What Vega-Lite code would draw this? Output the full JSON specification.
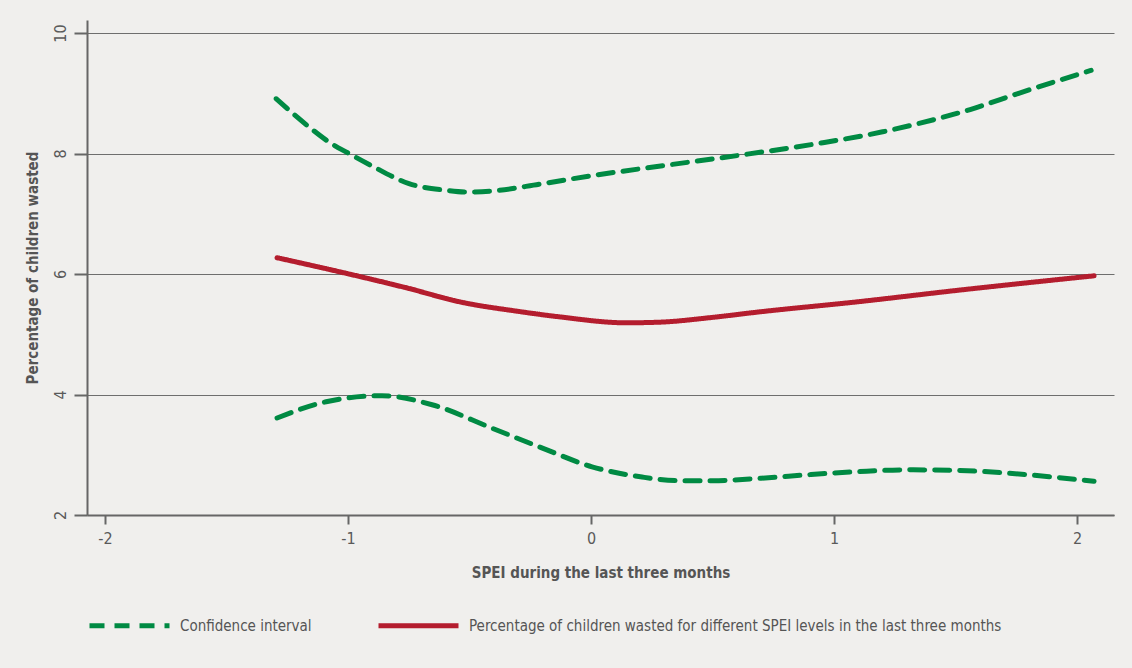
{
  "$schema": "https://vega.github.io/schema/vega-lite/v6.json",
  "width": 1027,
  "height": 495,
  "autosize": {"type": "none"},
  "padding": {"left": 87, "top": 20, "right": 18, "bottom": 153},
  "background": "#f0efed",
  "config": {
    "view": {"stroke": null},
    "font": "DejaVu Sans Condensed, Roboto, sans-serif",
    "axis": {
      "labelFont": "DejaVu Sans Condensed, Roboto, sans-serif",
      "titleFont": "DejaVu Sans Condensed, Roboto, sans-serif",
      "labelColor": "#5a5a5a",
      "titleColor": "#555555",
      "domainColor": "#666666",
      "tickColor": "#666666",
      "gridColor": "#6e6e6e",
      "gridOpacity": 1,
      "gridWidth": 1
    }
  },
  "data": {
    "values": [
      {"x": -1.296, "y": 8.91, "curve": "upper", "series": "Confidence interval"},
      {"x": -1.16, "y": 8.44, "curve": "upper", "series": "Confidence interval"},
      {"x": -1.078, "y": 8.19, "curve": "upper", "series": "Confidence interval"},
      {"x": -0.996, "y": 8.0, "curve": "upper", "series": "Confidence interval"},
      {"x": -0.9, "y": 7.79, "curve": "upper", "series": "Confidence interval"},
      {"x": -0.749, "y": 7.5, "curve": "upper", "series": "Confidence interval"},
      {"x": -0.6, "y": 7.39, "curve": "upper", "series": "Confidence interval"},
      {"x": -0.514, "y": 7.36, "curve": "upper", "series": "Confidence interval"},
      {"x": -0.4, "y": 7.38, "curve": "upper", "series": "Confidence interval"},
      {"x": -0.214, "y": 7.49, "curve": "upper", "series": "Confidence interval"},
      {"x": 0.0, "y": 7.63, "curve": "upper", "series": "Confidence interval"},
      {"x": 0.3, "y": 7.8, "curve": "upper", "series": "Confidence interval"},
      {"x": 0.609, "y": 7.97, "curve": "upper", "series": "Confidence interval"},
      {"x": 0.94, "y": 8.17, "curve": "upper", "series": "Confidence interval"},
      {"x": 1.2, "y": 8.36, "curve": "upper", "series": "Confidence interval"},
      {"x": 1.35, "y": 8.5, "curve": "upper", "series": "Confidence interval"},
      {"x": 1.56, "y": 8.73, "curve": "upper", "series": "Confidence interval"},
      {"x": 1.76, "y": 9.0, "curve": "upper", "series": "Confidence interval"},
      {"x": 2.058, "y": 9.38, "curve": "upper", "series": "Confidence interval"},
      {"x": -1.292, "y": 3.61, "curve": "lower", "series": "Confidence interval"},
      {"x": -1.09, "y": 3.88, "curve": "lower", "series": "Confidence interval"},
      {"x": -0.86, "y": 3.98, "curve": "lower", "series": "Confidence interval"},
      {"x": -0.654, "y": 3.83, "curve": "lower", "series": "Confidence interval"},
      {"x": -0.407, "y": 3.44, "curve": "lower", "series": "Confidence interval"},
      {"x": -0.2, "y": 3.11, "curve": "lower", "series": "Confidence interval"},
      {"x": 0.004, "y": 2.8, "curve": "lower", "series": "Confidence interval"},
      {"x": 0.21, "y": 2.63, "curve": "lower", "series": "Confidence interval"},
      {"x": 0.36, "y": 2.57, "curve": "lower", "series": "Confidence interval"},
      {"x": 0.5, "y": 2.57, "curve": "lower", "series": "Confidence interval"},
      {"x": 0.7, "y": 2.61, "curve": "lower", "series": "Confidence interval"},
      {"x": 0.9, "y": 2.67, "curve": "lower", "series": "Confidence interval"},
      {"x": 1.1, "y": 2.72, "curve": "lower", "series": "Confidence interval"},
      {"x": 1.3, "y": 2.75, "curve": "lower", "series": "Confidence interval"},
      {"x": 1.5, "y": 2.74, "curve": "lower", "series": "Confidence interval"},
      {"x": 1.7, "y": 2.7, "curve": "lower", "series": "Confidence interval"},
      {"x": 1.9, "y": 2.63, "curve": "lower", "series": "Confidence interval"},
      {"x": 2.07, "y": 2.56, "curve": "lower", "series": "Confidence interval"},
      {"x": -1.292, "y": 6.27, "curve": "fit", "series": "Percentage of children wasted for different SPEI levels in the last three months"},
      {"x": -0.996, "y": 6.0, "curve": "fit", "series": "Percentage of children wasted for different SPEI levels in the last three months"},
      {"x": -0.75, "y": 5.76, "curve": "fit", "series": "Percentage of children wasted for different SPEI levels in the last three months"},
      {"x": -0.543, "y": 5.54, "curve": "fit", "series": "Percentage of children wasted for different SPEI levels in the last three months"},
      {"x": -0.3, "y": 5.38, "curve": "fit", "series": "Percentage of children wasted for different SPEI levels in the last three months"},
      {"x": -0.132, "y": 5.29, "curve": "fit", "series": "Percentage of children wasted for different SPEI levels in the last three months"},
      {"x": 0.144, "y": 5.19, "curve": "fit", "series": "Percentage of children wasted for different SPEI levels in the last three months"},
      {"x": 0.28, "y": 5.2, "curve": "fit", "series": "Percentage of children wasted for different SPEI levels in the last three months"},
      {"x": 0.5, "y": 5.28, "curve": "fit", "series": "Percentage of children wasted for different SPEI levels in the last three months"},
      {"x": 0.69, "y": 5.37, "curve": "fit", "series": "Percentage of children wasted for different SPEI levels in the last three months"},
      {"x": 1.1, "y": 5.54, "curve": "fit", "series": "Percentage of children wasted for different SPEI levels in the last three months"},
      {"x": 1.51, "y": 5.73, "curve": "fit", "series": "Percentage of children wasted for different SPEI levels in the last three months"},
      {"x": 2.07, "y": 5.97, "curve": "fit", "series": "Percentage of children wasted for different SPEI levels in the last three months"}
    ]
  },
  "mark": {"type": "line", "interpolate": "monotone", "strokeWidth": 5, "strokeCap": "round"},
  "encoding": {
    "x": {
      "field": "x",
      "type": "quantitative",
      "scale": {"domain": [-2.074, 2.152], "nice": false, "zero": false},
      "axis": {
        "values": [-2, -1, 0, 1, 2],
        "labelExpr": "replace(datum.label, '\u2212', '-')",
        "grid": false,
        "title": "SPEI during the last three months",
        "titleFontSize": 15,
        "titleFontWeight": "bold",
        "titlePadding": 19,
        "labelFontSize": 16,
        "labelPadding": 6,
        "tickSize": 9,
        "tickWidth": 2,
        "domainWidth": 2
      }
    },
    "y": {
      "field": "y",
      "type": "quantitative",
      "scale": {"domain": [2, 10.216], "nice": false, "zero": false},
      "axis": {
        "values": [2, 4, 6, 8, 10],
        "grid": true,
        "title": "Percentage of children wasted",
        "titleFontSize": 15,
        "titleFontWeight": "bold",
        "titlePadding": 12,
        "labelAngle": -90,
        "labelFontSize": 16,
        "labelPadding": 6,
        "tickSize": 13,
        "tickWidth": 2,
        "domainWidth": 2
      }
    },
    "detail": {"field": "curve"},
    "color": {
      "field": "series",
      "type": "nominal",
      "scale": {
        "domain": ["Confidence interval", "Percentage of children wasted for different SPEI levels in the last three months"],
        "range": ["#008a43", "#b41d2e"]
      },
      "legend": {
        "title": null,
        "orient": "none",
        "legendX": 0,
        "legendY": 563,
        "direction": "horizontal",
        "symbolType": "stroke",
        "symbolSize": 6400,
        "symbolStrokeWidth": 5,
        "labelFontSize": 15,
        "labelColor": "#555555",
        "labelFont": "DejaVu Sans Condensed, Roboto, sans-serif",
        "labelLimit": 700,
        "labelOffset": 8,
        "columnPadding": 56
      }
    },
    "strokeDash": {
      "field": "series",
      "type": "nominal",
      "scale": {
        "domain": ["Confidence interval", "Percentage of children wasted for different SPEI levels in the last three months"],
        "range": [[15, 10], [1, 0]]
      },
      "legend": {
        "title": null,
        "orient": "none",
        "legendX": 0,
        "legendY": 563,
        "direction": "horizontal",
        "symbolType": "stroke",
        "symbolSize": 6400,
        "symbolStrokeWidth": 5,
        "labelFontSize": 15,
        "labelColor": "#555555",
        "labelFont": "DejaVu Sans Condensed, Roboto, sans-serif",
        "labelLimit": 700,
        "labelOffset": 8,
        "columnPadding": 56
      }
    }
  }
}
